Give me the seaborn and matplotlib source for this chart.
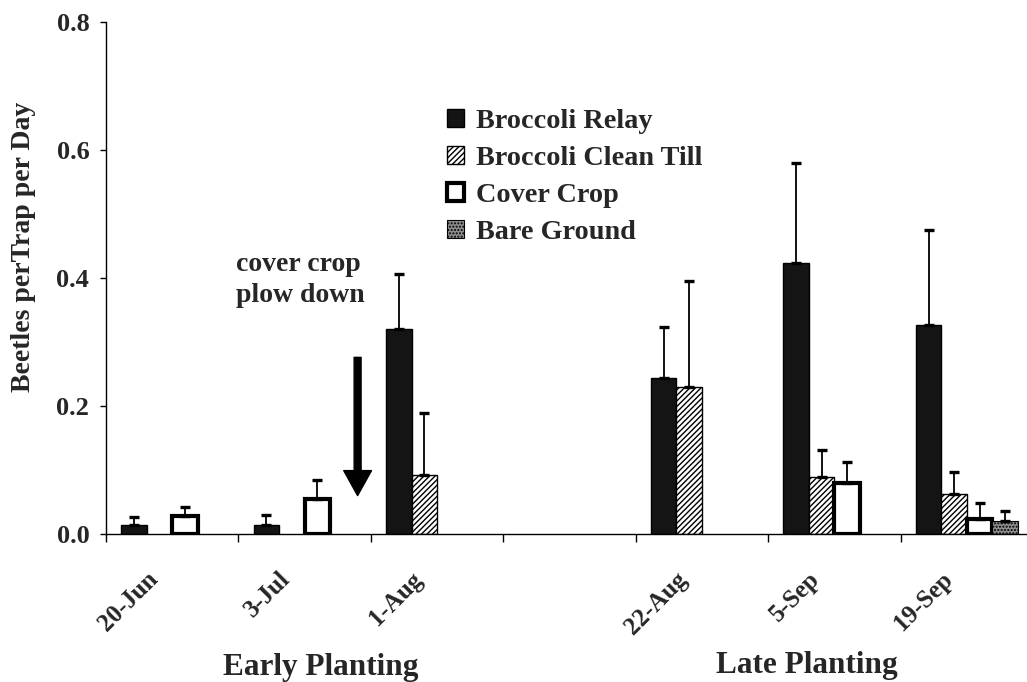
import numpy as np
import pandas as pd
import matplotlib
matplotlib.use("Agg")
import matplotlib.pyplot as plt
from matplotlib.transforms import ScaledTranslation
import seaborn as sns

# ---------------- data ----------------
dates = ["20-Jun", "3-Jul", "1-Aug", "", "22-Aug", "5-Sep", "19-Sep"]
series = ["Broccoli Relay", "Broccoli Clean Till", "Cover Crop", "Bare Ground"]

relay_dates = ["20-Jun", "3-Jul", "1-Aug", "22-Aug", "5-Sep", "19-Sep"]
relay_mean = [0.014, 0.014, 0.321, 0.244, 0.423, 0.327]
relay_err = [0.013, 0.016, 0.085, 0.079, 0.157, 0.148]

clean_dates = ["1-Aug", "22-Aug", "5-Sep", "19-Sep"]
clean_mean = [0.092, 0.230, 0.089, 0.062]
clean_err = [0.097, 0.165, 0.042, 0.035]

cover_dates = ["20-Jun", "3-Jul", "5-Sep", "19-Sep"]
cover_mean = [0.028, 0.055, 0.080, 0.023]
cover_err = [0.014, 0.029, 0.032, 0.025]

bare_dates = ["19-Sep"]
bare_mean = [0.021]
bare_err = [0.015]

yticks = [0.0, 0.2, 0.4, 0.6, 0.8]
ylabel = "Beetles perTrap per Day"
annot_text = "cover crop\nplow down"
group_labels = ["Early Planting", "Late Planting"]

# ---------------- table ----------------
rows = []
for name, ds, ms, es in [
    (series[0], relay_dates, relay_mean, relay_err),
    (series[1], clean_dates, clean_mean, clean_err),
    (series[2], cover_dates, cover_mean, cover_err),
    (series[3], bare_dates, bare_mean, bare_err),
]:
    for d, m, e in zip(ds, ms, es):
        rows.append({"date": d, "series": name, "value": m, "err": e})
df = pd.DataFrame(rows)

# ---------------- style ----------------
sns.set_theme(style="ticks")
plt.rcParams["font.family"] = ["Liberation Serif", "DejaVu Serif"]
plt.rcParams["font.weight"] = "bold"
plt.rcParams["hatch.linewidth"] = 1.0
plt.rcParams["axes.linewidth"] = 1.0

fig = plt.figure(figsize=(10.27, 6.82), dpi=100)
ax = fig.add_axes([106 / 1027, 148 / 682, 927 / 1027, 512 / 682])

palette = {series[0]: "#141414", series[1]: "white", series[2]: "white", series[3]: "#8f8f8f"}
sns.barplot(data=df, x="date", y="value", hue="series", order=dates,
            hue_order=series, palette=palette, width=0.77, errorbar=None,
            edgecolor="black", saturation=1, ax=ax)
bar_conts = list(ax.containers)

styles = {
    series[0]: dict(lw=1.0, hatch=None),
    series[1]: dict(lw=1.0, hatch="//////"),
    series[2]: dict(lw=3.0, hatch=None),
    series[3]: dict(lw=0.8, hatch="....."),
}

for cont, name in zip(bar_conts, series):
    sub = df[df["series"] == name].set_index("date")
    xs, ys, es = [], [], []
    for bar in cont:
        bar.set_linewidth(styles[name]["lw"])
        bar.set_edgecolor("black")
        if styles[name]["hatch"]:
            bar.set_hatch(styles[name]["hatch"])
        cx = bar.get_x() + bar.get_width() / 2
        h = bar.get_height()
        if np.isnan(h):
            continue
        d = dates[int(round(cx))]
        if d in sub.index:
            xs.append(cx)
            ys.append(h)
            es.append(sub.loc[d, "err"])
    if xs:
        ax.errorbar(xs, ys, yerr=[np.zeros(len(es)), es], fmt="none",
                    ecolor="black", elinewidth=1.3, capsize=3.8, capthick=2.4,
                    zorder=1)

# legend
handles = [cont.patches[0] for cont in bar_conts]
leg = ax.get_legend()
if leg is not None:
    leg.remove()
ax.legend(handles, series, loc="upper left",
          bbox_to_anchor=(447 / 1027, 1 - 109 / 682), bbox_transform=fig.transFigure,
          frameon=False, handlelength=0.62, handleheight=0.62,
          handletextpad=0.4, labelspacing=0.42, borderpad=0, borderaxespad=0,
          prop={"family": "Liberation Serif", "weight": "bold", "size": 20.3})

# axes
ax.set_xlim(-0.5, len(dates) - 0.5)
ax.set_ylim(0, 0.8)
ax.set_yticks(yticks)
ax.set_yticklabels([f"{v:.1f}" for v in yticks], fontsize=19, fontweight="bold")
ax.set_xticks(range(len(dates)))
ax.set_xticklabels(dates, fontsize=18, fontweight="bold", rotation=45,
                   ha="right", va="center", rotation_mode="anchor")
ax.set_xticks(np.arange(-0.5, len(dates), 1.0), minor=True)
ax.tick_params(axis="x", which="major", length=0, pad=30)
ax.tick_params(axis="x", which="minor", length=6, width=1.0, direction="out", color="black")
ax.tick_params(axis="y", which="major", length=4, width=1.0, direction="out", pad=8, color="black")
for lab in ax.get_xticklabels():
    lab.set_transform(lab.get_transform() + ScaledTranslation(-18 / 100, 0, fig.dpi_scale_trans))
ax.set_xlabel("")
ax.set_ylabel("")
sns.despine(ax=ax)
for sp in ["left", "bottom"]:
    ax.spines[sp].set_color("black")
    ax.spines[sp].set_linewidth(1.0)

# annotation + arrow
ax.annotate("", xy=(1.4, 0.06), xytext=(1.4, 0.276),
            arrowprops=dict(facecolor="black", edgecolor="black", width=5,
                            headwidth=20, headlength=18, shrink=0))
ax.text(0.48, 0.397, annot_text, fontsize=20, fontweight="bold", ha="left",
        va="center", linespacing=1.3)

# labels
fig.text(24 / 1027, 1 - 247 / 682, ylabel, rotation=90, ha="center", va="center",
         fontsize=20, fontweight="bold")
fig.text(321 / 1027, 1 - 667 / 682, group_labels[0], ha="center", va="center",
         fontsize=22.5, fontweight="bold")
fig.text(807 / 1027, 1.5 / 682, group_labels[1], ha="center", va="bottom",
         fontsize=22.5, fontweight="bold")

fig.savefig("out.png", dpi=100)
